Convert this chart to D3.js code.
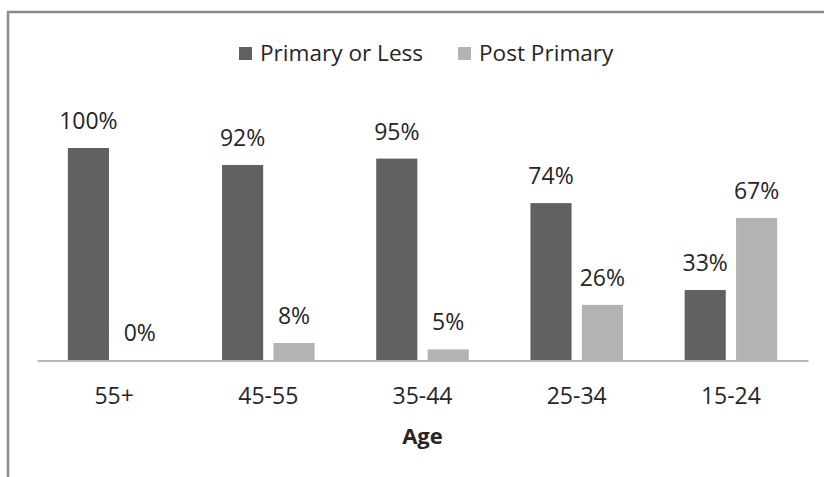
<!DOCTYPE html>
<html>
<head>
<meta charset="utf-8">
<script src="https://cdn.jsdelivr.net/npm/d3@7"></script>
<style>
  html, body { margin: 0; padding: 0; background: #fff; }
  svg { display: block; }
  text { font-family: "Open Sans", "Noto Sans", sans-serif; fill: #262626; }
</style>
</head>
<body>
<svg id="chart" width="824" height="477"></svg>
<script>
// Education level by age group (share of respondents, %)
const ageGroups = ["55+", "45-55", "35-44", "25-34", "15-24"];
const seriesNames = ["Primary or Less", "Post Primary"];
const primaryOrLess = [100, 92, 95, 74, 33];
const postPrimary = [0, 8, 5, 26, 67];
const seriesColors = ["#616161", "#b3b3b3"];

const seriesValues = [primaryOrLess, postPrimary];
const rows = ageGroups.map((g, i) => ({
  group: g,
  values: seriesNames.map((s, j) => ({ key: s, idx: j, value: seriesValues[j][i] }))
}));

const svg = d3.select("#chart");

// chart frame
svg.append("rect")
  .attr("x", 8).attr("y", 12)
  .attr("width", 900).attr("height", 600)
  .attr("fill", "none")
  .attr("stroke", "#8c8c8c")
  .attr("stroke-width", 2.5);

const plot = { left: 37, right: 808, top: 148, bottom: 360 };

const x0 = d3.scaleBand()
  .domain(ageGroups)
  .range([plot.left, plot.right])
  .paddingInner(0.4)
  .paddingOuter(0.2);

const x1 = d3.scaleBand()
  .domain(seriesNames)
  .range([0, x0.bandwidth()])
  .paddingInner(0.2);

const y = d3.scaleLinear()
  .domain([0, 100])
  .range([plot.bottom, plot.top]);

const groups = svg.append("g").selectAll("g")
  .data(rows)
  .join("g")
  .attr("transform", d => `translate(${x0(d.group)},0)`);

groups.selectAll("rect")
  .data(d => d.values)
  .join("rect")
  .attr("x", d => x1(d.key))
  .attr("y", d => y(d.value))
  .attr("width", x1.bandwidth())
  .attr("height", d => y(0) - y(d.value))
  .attr("fill", d => seriesColors[d.idx]);

groups.selectAll("text.value")
  .data(d => d.values)
  .join("text")
  .attr("class", "value")
  .attr("x", d => x1(d.key) + x1.bandwidth() / 2)
  .attr("y", d => y(d.value) - 19)
  .attr("text-anchor", "middle")
  .style("font-size", "23px")
  .text(d => d.value + "%");

// category axis
const xAxis = svg.append("g")
  .attr("transform", `translate(0,${plot.bottom + 0.5})`)
  .call(d3.axisBottom(x0).tickSize(0).tickSizeOuter(0).tickPadding(0));
xAxis.select(".domain")
  .attr("stroke", "#a0a0a0")
  .attr("stroke-width", 1.5);
xAxis.selectAll(".tick text")
  .attr("dy", null)
  .attr("y", 43)
  .style("font-size", "23px")
  .style("font-family", "\"Open Sans\", sans-serif")
  .attr("fill", "#262626");

// axis title
svg.append("text")
  .attr("x", (plot.left + plot.right) / 2)
  .attr("y", 444)
  .attr("text-anchor", "middle")
  .style("font-size", "22px")
  .style("font-weight", "bold")
  .text("Age");

// legend
const legendItems = [
  { name: seriesNames[0], color: seriesColors[0], x: 239 },
  { name: seriesNames[1], color: seriesColors[1], x: 458 }
];
const legend = svg.append("g");
legendItems.forEach(item => {
  legend.append("rect")
    .attr("x", item.x).attr("y", 47)
    .attr("width", 13).attr("height", 13)
    .attr("fill", item.color);
  legend.append("text")
    .attr("x", item.x + 21)
    .attr("y", 61)
    .style("font-size", "22.6px")
    .text(item.name);
});
</script>
</body>
</html>
